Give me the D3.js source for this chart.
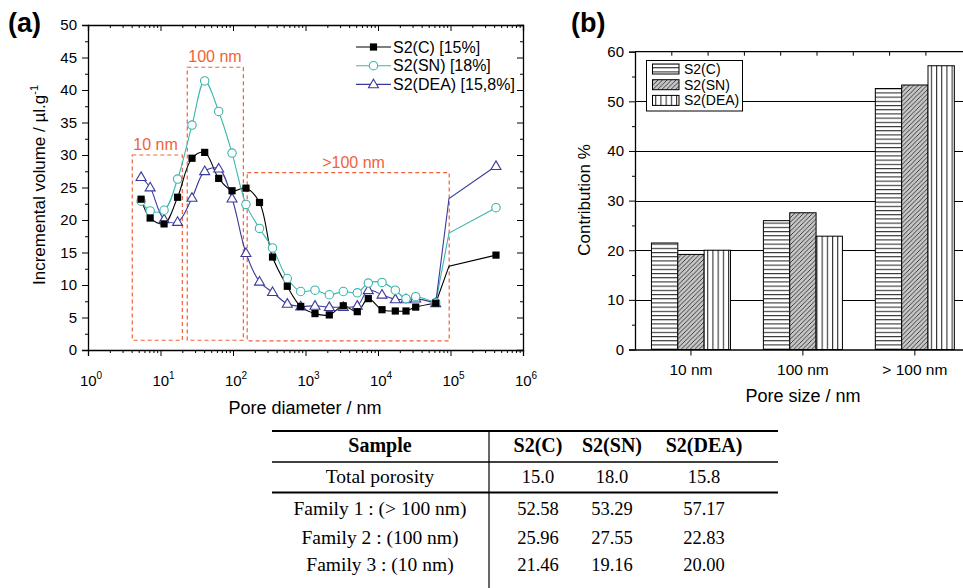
<!DOCTYPE html>
<html>
<head>
<meta charset="utf-8">
<script src="https://cdn.jsdelivr.net/npm/d3@7"></script>
<style>
  body { margin: 0; background: #fff; }
  svg { display: block; font-family: "Liberation Sans", Arial, sans-serif; }
</style>
</head>
<body>
<script>
// ---- data: panel (a) pore size distribution ----
const poreDiam = [5.4, 7.2, 11.2, 17.2, 27.2, 40.7, 63.5, 97, 151, 232, 351, 561, 859, 1352, 2130, 3320, 5180, 7350, 11360, 17330, 24330, 33120, 62500, 95300, 424000];
const volC   = [23.2, 20.3, 19.4, 23.5, 29.5, 30.4, 26.4, 24.5, 24.9, 22.7, 14.3, 9.8, 6.7, 5.6, 5.4, 6.8, 5.9, 7.9, 6.2, 6.0, 6.0, 6.6, 7.2, 12.9, 14.6];
const volSN  = [22.9, 21.4, 21.5, 26.3, 34.6, 41.4, 36.7, 30.3, 22.4, 18.7, 15.7, 11.0, 9.0, 9.2, 8.5, 9.0, 8.8, 10.3, 10.4, 9.2, 7.9, 8.2, 7.3, 18.0, 21.9];
const volDEA = [26.6, 25.0, 20.1, 19.7, 23.4, 27.5, 27.9, 23.3, 14.9, 10.5, 8.9, 7.1, 6.7, 6.8, 6.6, 6.6, 6.8, 9.2, 8.5, 7.8, 7.8, 7.9, 7.2, 23.3, 28.3];
const seriesNames = ["S2(C) [15%]", "S2(SN) [18%]", "S2(DEA) [15,8%]"];
const splineEnd = 22;      // spline up to here, straight segments after
const noMarker = 23;       // point drawn without a symbol
// dashed family boxes
const boxLabels = ["10 nm", "100 nm", ">100 nm"];
const boxX = [[4.08, 20], [23.4, 139], [157, 96000]];
const boxY = [[1.5, 30], [1.5, 43.5], [1.4, 27.3]];

// ---- data: panel (b) contributions ----
const sizeCats = ["10 nm", "100 nm", "> 100 nm"];
const barNames = ["S2(C)", "S2(SN)", "S2(DEA)"];
const contribC   = [21.46, 25.96, 52.58];
const contribSN  = [19.16, 27.55, 53.29];
const contribDEA = [20.00, 22.83, 57.17];

// ---- data: table ----
const tableHead = ["Sample", "S2(C)", "S2(SN)", "S2(DEA)"];
const tableRows = [
  ["Total porosity", "15.0", "18.0", "15.8"],
  ["Family 1 : (> 100 nm)", "52.58", "53.29", "57.17"],
  ["Family 2 : (100 nm)", "25.96", "27.55", "22.83"],
  ["Family 3 : (10 nm)", "21.46", "19.16", "20.00"]
];

const W = 963, H = 588;
const svg = d3.select("body").append("svg").attr("width", W).attr("height", H);

const colors = ["#000000", "#3cb6ad", "#3a3a9c"];
const orange = "#f0623a";

// ================= panel (a) =================
const x = d3.scaleLog().domain([1, 1e6]).range([88, 523]);
const y = d3.scaleLinear().domain([0, 50]).range([350, 25]);

const gA = svg.append("g");

const minorLog = [];
for (let d = 0; d < 6; d++) for (let k = 2; k <= 9; k++) minorLog.push(k * Math.pow(10, d));
const majorLog = d3.range(0, 7).map(d => Math.pow(10, d));

function styleAxis(g) {
  g.select(".domain").attr("stroke", "#000").attr("stroke-width", 1.3);
  g.selectAll(".tick line").attr("stroke", "#000").attr("stroke-width", 1);
}

// bottom
gA.append("g").attr("transform", "translate(0,350)")
  .call(d3.axisBottom(x).tickValues(minorLog).tickSize(3).tickFormat(""))
  .call(g => g.select(".domain").remove()).call(styleAxis);
gA.append("g").attr("transform", "translate(0,350)")
  .call(d3.axisBottom(x).tickValues(majorLog).tickSize(6).tickFormat("")).call(styleAxis);
// top
gA.append("g").attr("transform", "translate(0,25)")
  .call(d3.axisTop(x).tickValues(minorLog).tickSize(-3).tickFormat(""))
  .call(g => g.select(".domain").remove()).call(styleAxis);
gA.append("g").attr("transform", "translate(0,25)")
  .call(d3.axisTop(x).tickValues(majorLog).tickSize(-6).tickFormat("")).call(styleAxis);
// left
gA.append("g").attr("transform", "translate(88,0)")
  .call(d3.axisLeft(y).tickValues(d3.range(2.5, 50, 5)).tickSize(3).tickFormat(""))
  .call(g => g.select(".domain").remove()).call(styleAxis);
gA.append("g").attr("transform", "translate(88,0)")
  .call(d3.axisLeft(y).tickValues(d3.range(0, 51, 5)).tickSize(6).tickPadding(5))
  .call(styleAxis)
  .call(g => g.selectAll("text").attr("font-size", 15).attr("font-family", "Liberation Sans, Arial"));
// right
gA.append("g").attr("transform", "translate(523,0)")
  .call(d3.axisRight(y).tickValues(d3.range(2.5, 50, 5)).tickSize(-3).tickFormat(""))
  .call(g => g.select(".domain").remove()).call(styleAxis);
gA.append("g").attr("transform", "translate(523,0)")
  .call(d3.axisRight(y).tickValues(d3.range(0, 51, 5)).tickSize(-6).tickFormat("")).call(styleAxis);

// bottom labels 10^n
majorLog.forEach((v, i) => {
  const t = gA.append("text").attr("x", x(v) + 3).attr("y", 386)
    .attr("text-anchor", "middle").attr("font-size", 15).text("10");
  t.append("tspan").attr("dy", -7).attr("font-size", 10).text(i);
});

gA.append("text").attr("x", 305).attr("y", 414).attr("text-anchor", "middle")
  .attr("font-size", 18).text("Pore diameter / nm");
const yt = gA.append("text").attr("transform", "translate(45,185) rotate(-90)")
  .attr("text-anchor", "middle").attr("font-size", 17).text("Incremental volume / µl.g");
yt.append("tspan").attr("dy", -7).attr("font-size", 11).text("-1");

gA.append("text").attr("x", 8).attr("y", 32).attr("font-size", 27)
  .attr("font-weight", "bold").text("(a)");

// dashed boxes
boxLabels.forEach((lab, i) => {
  const x0 = x(boxX[i][0]), x1 = x(boxX[i][1]);
  const y0 = y(boxY[i][1]), y1 = y(boxY[i][0]);
  gA.append("rect").attr("x", x0).attr("y", y0).attr("width", x1 - x0).attr("height", y1 - y0)
    .attr("fill", "none").attr("stroke", orange).attr("stroke-width", 1.2)
    .attr("stroke-dasharray", "4,3");
  const lx = i === 2 ? (x0 + x1) / 2 - 26 : x0 + 1;
  gA.append("text").attr("x", lx).attr("y", y0 - 5)
    .attr("font-size", 16).attr("fill", orange).text(lab);
});

// lines + markers
const seriesVals = [volC, volSN, volDEA];
const spline = d3.line().x(d => x(d[0])).y(d => y(d[1])).curve(d3.curveCatmullRom.alpha(0.5));
const straight = d3.line().x(d => x(d[0])).y(d => y(d[1]));

seriesVals.forEach((vals, s) => {
  const pts = poreDiam.map((d, i) => [d, vals[i]]);
  gA.append("path").attr("d", spline(pts.slice(0, splineEnd + 1)))
    .attr("fill", "none").attr("stroke", colors[s]).attr("stroke-width", 1.1);
  gA.append("path").attr("d", straight(pts.slice(splineEnd)))
    .attr("fill", "none").attr("stroke", colors[s]).attr("stroke-width", 1.1);
});

function drawMarker(g, s, cx, cy) {
  if (s === 0) {
    g.append("rect").attr("x", cx - 3.6).attr("y", cy - 3.6).attr("width", 7.2).attr("height", 7.2)
      .attr("fill", "#000");
  } else if (s === 1) {
    g.append("circle").attr("cx", cx).attr("cy", cy).attr("r", 4.2)
      .attr("fill", "#fff").attr("stroke", colors[1]).attr("stroke-width", 1.1);
  } else {
    g.append("path").attr("d", `M${cx},${cy - 5.2}L${cx + 5},${cy + 3.4}L${cx - 5},${cy + 3.4}Z`)
      .attr("fill", "#fff").attr("stroke", colors[2]).attr("stroke-width", 1.1);
  }
}

[2, 1, 0].forEach(s => {
  poreDiam.forEach((d, i) => {
    if (i === noMarker) return;
    drawMarker(gA, s, x(d), y(seriesVals[s][i]));
  });
});

// legend (a)
seriesNames.forEach((name, s) => {
  const ly = 47 + s * 18.7;
  gA.append("line").attr("x1", 356).attr("x2", 391).attr("y1", ly).attr("y2", ly)
    .attr("stroke", colors[s]).attr("stroke-width", 1.1);
  drawMarker(gA, s, 373.5, ly);
  gA.append("text").attr("x", 393).attr("y", ly + 5.5).attr("font-size", 16).text(name);
});

// ================= panel (b) =================
const x0b = 635, x1b = 970.8;
const xb = d3.scaleBand().domain(sizeCats).range([x0b, x1b]).paddingInner(0.294).paddingOuter(0.147);
const xs = d3.scaleBand().domain(barNames).range([0, xb.bandwidth()]);
const yb = d3.scaleLinear().domain([0, 60]).range([349.5, 51.7]);
const gB = svg.append("g");

const defs = svg.append("defs");
const pH = defs.append("pattern").attr("id", "pH").attr("patternUnits", "userSpaceOnUse")
  .attr("width", 8).attr("height", 4.2);
pH.append("rect").attr("width", 8).attr("height", 4.2).attr("fill", "#fff");
pH.append("line").attr("x1", 0).attr("x2", 8).attr("y1", 0.6).attr("y2", 0.6)
  .attr("stroke", "#000").attr("stroke-width", 0.9);
const pD = defs.append("pattern").attr("id", "pD").attr("patternUnits", "userSpaceOnUse")
  .attr("width", 4.5).attr("height", 4.5);
pD.append("rect").attr("width", 4.5).attr("height", 4.5).attr("fill", "#c6c6c6");
pD.append("path").attr("d", "M0,4.5L4.5,0M-1,1L1,-1M3.5,5.5L5.5,3.5")
  .attr("stroke", "#000").attr("stroke-width", 0.7);
const pV = defs.append("pattern").attr("id", "pV").attr("patternUnits", "userSpaceOnUse")
  .attr("width", 5.2).attr("height", 8);
pV.append("rect").attr("width", 5.2).attr("height", 8).attr("fill", "#fff");
pV.append("line").attr("x1", 0.6).attr("x2", 0.6).attr("y1", 0).attr("y2", 8)
  .attr("stroke", "#000").attr("stroke-width", 0.9);
const fills = ["url(#pH)", "url(#pD)", "url(#pV)"];

// gridlines
gB.append("g").selectAll("line").data(d3.range(10, 60, 10)).join("line")
  .attr("x1", x0b).attr("x2", x1b).attr("y1", d => Math.round(yb(d)) + 0.5).attr("y2", d => Math.round(yb(d)) + 0.5)
  .attr("stroke", "#000").attr("stroke-width", 1);

// bars
const barVals = [contribC, contribSN, contribDEA];
sizeCats.forEach((c, ci) => {
  barNames.forEach((b, bi) => {
    const v = barVals[bi][ci];
    gB.append("rect").attr("x", xb(c) + xs(b)).attr("y", yb(v))
      .attr("width", xs.bandwidth()).attr("height", yb(0) - yb(v))
      .attr("fill", fills[bi]).attr("stroke", "#000").attr("stroke-width", 1);
  });
});

// axes (b)
gB.append("g").attr("transform", `translate(${x0b},0)`)
  .call(d3.axisLeft(yb).tickValues(d3.range(5, 60, 10)).tickSize(3).tickFormat(""))
  .call(g => g.select(".domain").remove()).call(styleAxis);
gB.append("g").attr("transform", `translate(${x0b},0)`)
  .call(d3.axisLeft(yb).tickValues(d3.range(0, 61, 10)).tickSize(6).tickPadding(5))
  .call(styleAxis)
  .call(g => g.selectAll("text").attr("font-size", 15).attr("font-family", "Liberation Sans, Arial"));
gB.append("g").attr("transform", `translate(${x1b},0)`)
  .call(d3.axisRight(yb).tickValues(d3.range(0, 61, 10)).tickSize(-6).tickFormat("")).call(styleAxis);
gB.append("g").attr("transform", "translate(0,349.5)")
  .call(d3.axisBottom(xb).tickSize(6).tickPadding(8).tickSizeOuter(0))
  .call(styleAxis)
  .call(g => g.selectAll("text").attr("font-size", 15.5).attr("font-family", "Liberation Sans, Arial"));
const xTop = d3.scaleLinear().domain([0, 9]).range([x0b, x0b + 9 * 36.3]);
gB.append("g").attr("transform", "translate(0,51.7)")
  .call(d3.axisTop(xTop).tickValues(d3.range(1, 9)).tickSize(-4).tickFormat("").tickSizeOuter(0))
  .call(styleAxis)
  .call(g => g.select(".domain").attr("d", `M${x0b},0H${x1b}`));

gB.append("text").attr("x", 803).attr("y", 402).attr("text-anchor", "middle")
  .attr("font-size", 18).text("Pore size / nm");
gB.append("text").attr("transform", "translate(590,200) rotate(-90)")
  .attr("text-anchor", "middle").attr("font-size", 17).text("Contribution %");
gB.append("text").attr("x", 571).attr("y", 32).attr("font-size", 27)
  .attr("font-weight", "bold").text("(b)");

// legend (b)
gB.append("rect").attr("x", 646.5).attr("y", 60.5).attr("width", 96).attr("height", 50.5)
  .attr("fill", "#fff").attr("stroke", "#000").attr("stroke-width", 1);
barNames.forEach((b, i) => {
  const cy = 69 + i * 15.7;
  gB.append("rect").attr("x", 652.5).attr("y", cy - 5).attr("width", 26.5).attr("height", 10)
    .attr("fill", fills[i]).attr("stroke", "#000").attr("stroke-width", 1);
  gB.append("text").attr("x", 684).attr("y", cy + 5).attr("font-size", 14).text(b);
});

// ================= table =================
const gT = svg.append("g").attr("font-family", "Liberation Serif, Times New Roman, serif");
const colX = [380, 538, 612, 704];
const rowBase = [483, 515, 543.5, 571];
gT.append("line").attr("x1", 272).attr("x2", 778).attr("y1", 431).attr("y2", 431)
  .attr("stroke", "#000").attr("stroke-width", 2);
gT.append("line").attr("x1", 272).attr("x2", 778).attr("y1", 462).attr("y2", 462)
  .attr("stroke", "#000").attr("stroke-width", 1.3);
gT.append("line").attr("x1", 272).attr("x2", 778).attr("y1", 492.5).attr("y2", 492.5)
  .attr("stroke", "#000").attr("stroke-width", 2);
gT.append("line").attr("x1", 489).attr("x2", 489).attr("y1", 431).attr("y2", 588)
  .attr("stroke", "#000").attr("stroke-width", 1.2);
tableHead.forEach((h, i) => {
  gT.append("text").attr("x", colX[i]).attr("y", 452).attr("text-anchor", "middle")
    .attr("font-size", 20).attr("font-weight", "bold").text(h);
});
tableRows.forEach((r, ri) => {
  r.forEach((c, i) => {
    gT.append("text").attr("x", colX[i]).attr("y", rowBase[ri]).attr("text-anchor", "middle")
      .attr("font-size", i === 0 ? 19.5 : 18.5).text(c);
  });
});
</script>
</body>
</html>
